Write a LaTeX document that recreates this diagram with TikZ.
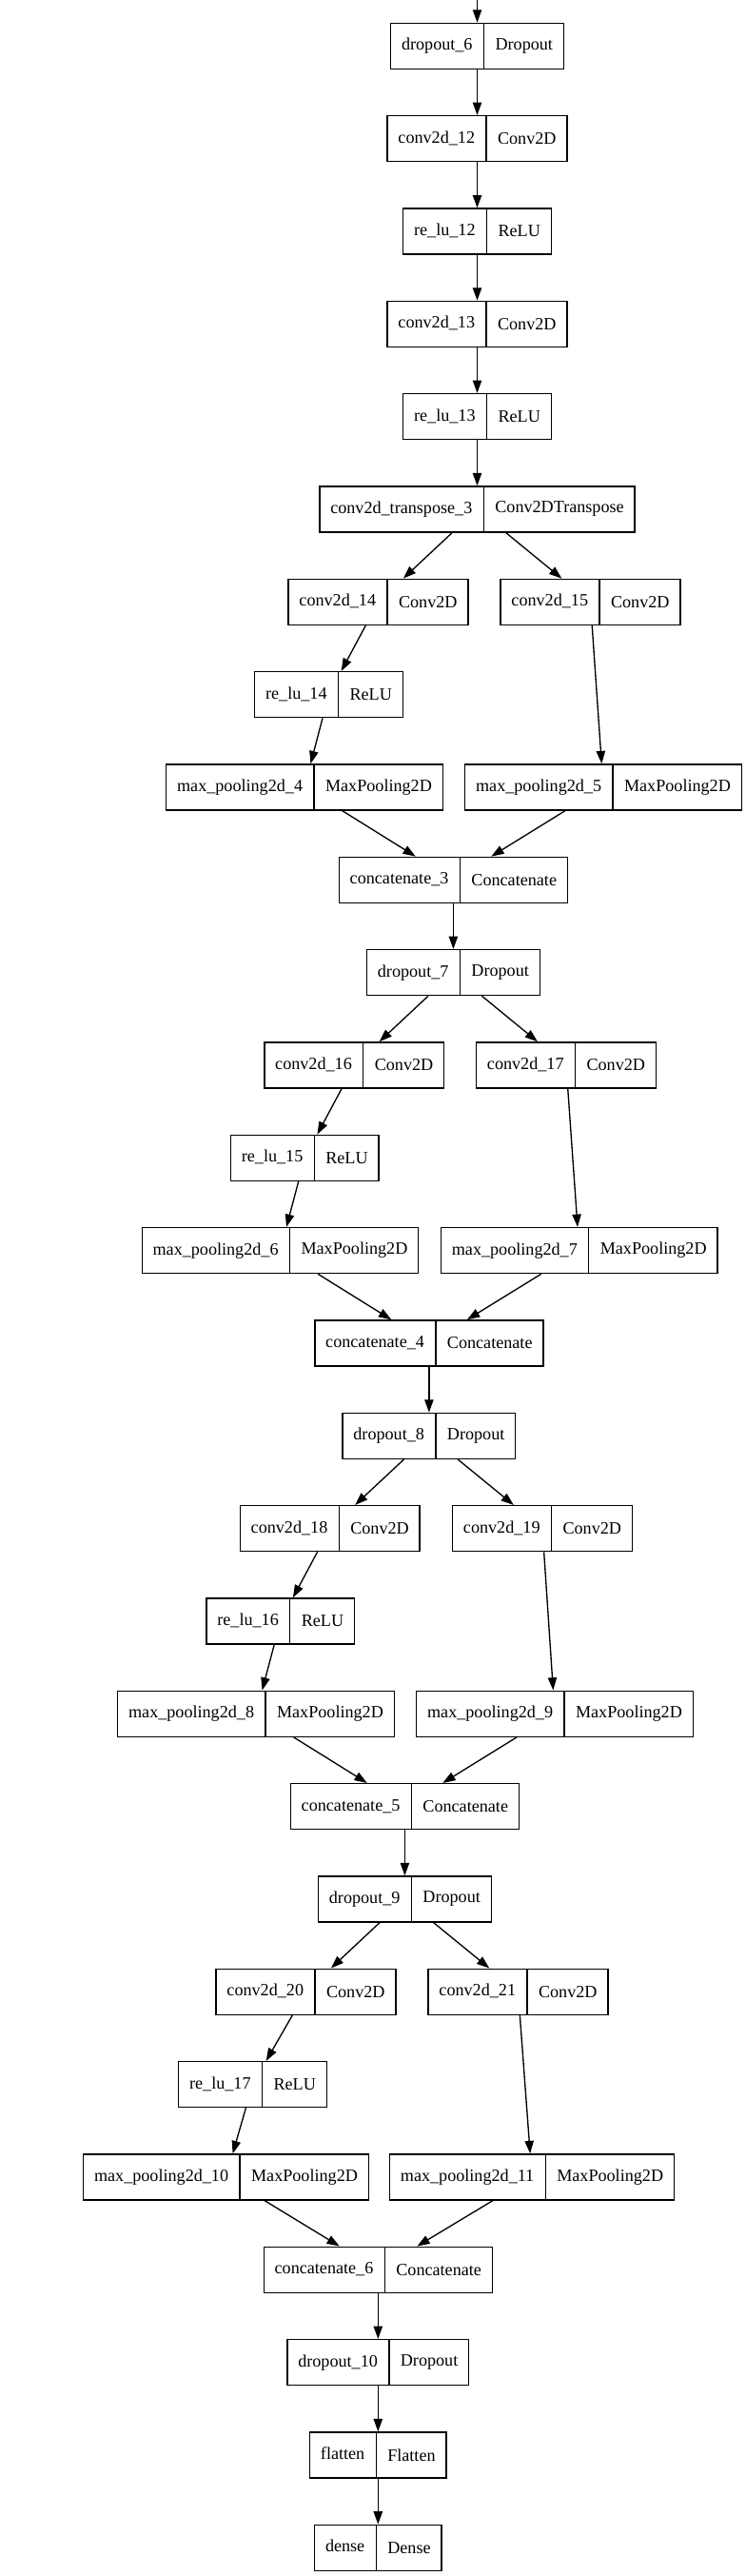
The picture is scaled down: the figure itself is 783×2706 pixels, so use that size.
\documentclass[tikz,border=0pt]{standalone}
\usepackage{fontspec}
\setmainfont{Liberation Serif}
\usetikzlibrary{shapes.multipart,arrows.meta}

\begin{document}
\begin{tikzpicture}[
            x = 0.75pt, y = -0.75pt,
            layer/.style = {draw, line width = 1pt, rectangle split, rectangle split horizontal,
                rectangle split parts = 2, inner xsep = 8.5pt, inner ysep = 11.5pt,
                text height = 10pt, text depth = 3pt, minimum height = 36pt,
                font = \fontsize{13.6}{16}\selectfont},
            flow/.style = {-{Triangle[length = 10pt, width = 7pt]}, line width = 1pt}]
            \useasboundingbox (0,0) rectangle (783,2706);
            \coordinate (in) at (501.5,0);
            % top column
            \node[layer] (d6) at (501.5,48.3) {dropout\_6 \nodepart{two} Dropout};
            \node[layer] (c12) at (501.5,145.6) {conv2d\_12 \nodepart{two} Conv2D};
            \node[layer] (r12) at (501.5,243.0) {re\_lu\_12 \nodepart{two} ReLU};
            \node[layer] (c13) at (501.5,340.3) {conv2d\_13 \nodepart{two} Conv2D};
            \node[layer] (r13) at (501.5,437.6) {re\_lu\_13 \nodepart{two} ReLU};
            \node[layer] (ct3) at (501.5,534.9) {conv2d\_transpose\_3 \nodepart{two} Conv2DTranspose};
            % block 1
            \node[layer] (c14) at (397.5,632.3) {conv2d\_14 \nodepart{two} Conv2D};
            \node[layer] (c15) at (620.5,632.3) {conv2d\_15 \nodepart{two} Conv2D};
            \node[layer] (r14) at (345.5,729.6) {re\_lu\_14 \nodepart{two} ReLU};
            \node[layer] (mp4) at (320,826.9) {max\_pooling2d\_4 \nodepart{two} MaxPooling2D};
            \node[layer] (mp5) at (634,826.9) {max\_pooling2d\_5 \nodepart{two} MaxPooling2D};
            \node[layer] (cat3) at (476.4,924.3) {concatenate\_3 \nodepart{two} Concatenate};
            % block 2
            \node[layer] (d7) at (476.4,1021.6) {dropout\_7 \nodepart{two} Dropout};
            \node[layer] (c16) at (372.25,1118.9) {conv2d\_16 \nodepart{two} Conv2D};
            \node[layer] (c17) at (595,1118.9) {conv2d\_17 \nodepart{two} Conv2D};
            \node[layer] (r15) at (320.25,1216.3) {re\_lu\_15 \nodepart{two} ReLU};
            \node[layer] (mp6) at (294.5,1313.6) {max\_pooling2d\_6 \nodepart{two} MaxPooling2D};
            \node[layer] (mp7) at (608.75,1313.6) {max\_pooling2d\_7 \nodepart{two} MaxPooling2D};
            \node[layer] (cat4) at (450.9,1410.9) {concatenate\_4 \nodepart{two} Concatenate};
            % block 3
            \node[layer] (d8) at (450.9,1508.3) {dropout\_8 \nodepart{two} Dropout};
            \node[layer] (c18) at (346.75,1605.6) {conv2d\_18 \nodepart{two} Conv2D};
            \node[layer] (c19) at (570,1605.6) {conv2d\_19 \nodepart{two} Conv2D};
            \node[layer] (r16) at (294.75,1702.9) {re\_lu\_16 \nodepart{two} ReLU};
            \node[layer] (mp8) at (269,1800.2) {max\_pooling2d\_8 \nodepart{two} MaxPooling2D};
            \node[layer] (mp9) at (583,1800.2) {max\_pooling2d\_9 \nodepart{two} MaxPooling2D};
            \node[layer] (cat5) at (425.4,1897.6) {concatenate\_5 \nodepart{two} Concatenate};
            % block 4
            \node[layer] (d9) at (425.4,1994.9) {dropout\_9 \nodepart{two} Dropout};
            \node[layer] (c20) at (321.5,2092.2) {conv2d\_20 \nodepart{two} Conv2D};
            \node[layer] (c21) at (544.5,2092.2) {conv2d\_21 \nodepart{two} Conv2D};
            \node[layer] (r17) at (265.5,2189.6) {re\_lu\_17 \nodepart{two} ReLU};
            \node[layer] (mp10) at (237.5,2286.9) {max\_pooling2d\_10 \nodepart{two} MaxPooling2D};
            \node[layer] (mp11) at (559,2286.9) {max\_pooling2d\_11 \nodepart{two} MaxPooling2D};
            \node[layer] (cat6) at (397.3,2384.2) {concatenate\_6 \nodepart{two} Concatenate};
            % tail
            \node[layer] (d10) at (397.3,2481.6) {dropout\_10 \nodepart{two} Dropout};
            \node[layer] (fl) at (397.3,2578.9) {flatten \nodepart{two} Flatten};
            \node[layer] (de) at (397.3,2676.2) {dense \nodepart{two} Dense};
            % edges
            \draw[flow] (in) -- (d6);
            \draw[flow] (d6) -- (c12);
            \draw[flow] (c12) -- (r12);
            \draw[flow] (r12) -- (c13);
            \draw[flow] (c13) -- (r13);
            \draw[flow] (r13) -- (ct3);
            \draw[flow] (ct3) -- (c14);
            \draw[flow] (ct3) -- (c15);
            \draw[flow] (c14) -- (r14);
            \draw[flow] (r14) -- (mp4);
            \draw[flow] (c15) -- (mp5);
            \draw[flow] (mp4) -- (cat3);
            \draw[flow] (mp5) -- (cat3);
            \draw[flow] (cat3) -- (d7);
            \draw[flow] (d7) -- (c16);
            \draw[flow] (d7) -- (c17);
            \draw[flow] (c16) -- (r15);
            \draw[flow] (r15) -- (mp6);
            \draw[flow] (c17) -- (mp7);
            \draw[flow] (mp6) -- (cat4);
            \draw[flow] (mp7) -- (cat4);
            \draw[flow] (cat4) -- (d8);
            \draw[flow] (d8) -- (c18);
            \draw[flow] (d8) -- (c19);
            \draw[flow] (c18) -- (r16);
            \draw[flow] (r16) -- (mp8);
            \draw[flow] (c19) -- (mp9);
            \draw[flow] (mp8) -- (cat5);
            \draw[flow] (mp9) -- (cat5);
            \draw[flow] (cat5) -- (d9);
            \draw[flow] (d9) -- (c20);
            \draw[flow] (d9) -- (c21);
            \draw[flow] (c20) -- (r17);
            \draw[flow] (r17) -- (mp10);
            \draw[flow] (c21) -- (mp11);
            \draw[flow] (mp10) -- (cat6);
            \draw[flow] (mp11) -- (cat6);
            \draw[flow] (cat6) -- (d10);
            \draw[flow] (d10) -- (fl);
            \draw[flow] (fl) -- (de);
        \end{tikzpicture}
\end{document}
